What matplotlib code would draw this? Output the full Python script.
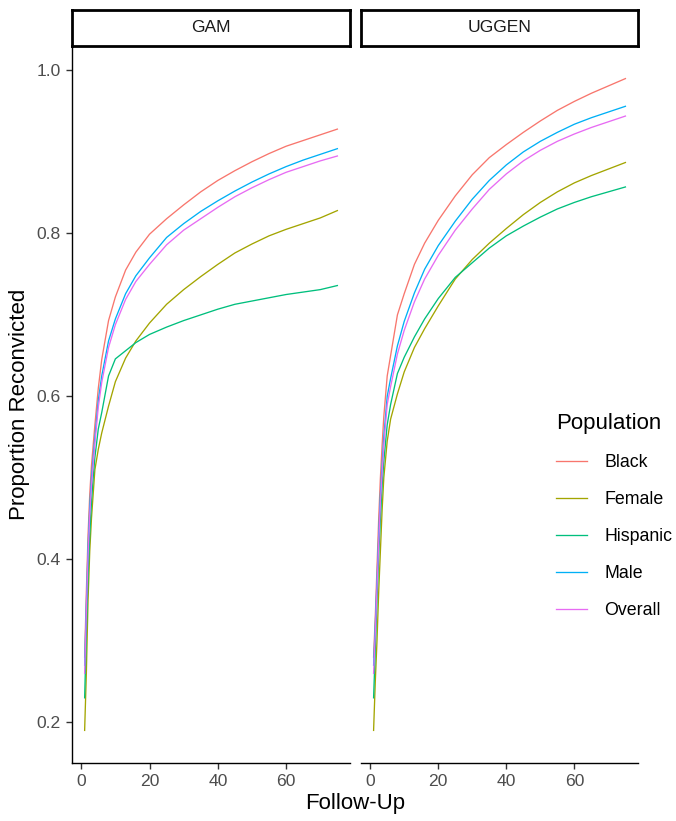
import numpy as np
import matplotlib
matplotlib.use("Agg")
import matplotlib.pyplot as plt
from matplotlib.lines import Line2D

plt.rcParams["font.family"] = ["Liberation Sans", "DejaVu Sans"]

follow_up = [1, 1.5, 2, 2.5, 3, 3.5, 4, 5, 6, 8, 10, 13, 16, 20, 25,
             30, 35, 40, 45, 50, 55, 60, 65, 70, 75]

populations = ["Black", "Female", "Hispanic", "Male", "Overall"]
colors = ["#F8766D", "#A3A500", "#00BF7D", "#00B0F6", "#E76BF3"]
panels = ["GAM", "UGGEN"]

# GAM panel
gam_black = [0.28, 0.36, 0.43, 0.48, 0.515, 0.54, 0.565, 0.61, 0.645, 0.693, 0.722, 0.755, 0.777,
             0.799, 0.818, 0.835, 0.851, 0.865, 0.877, 0.888, 0.898, 0.907, 0.914, 0.921, 0.928]
gam_female = [0.19, 0.26, 0.35, 0.41, 0.45, 0.48, 0.51, 0.535, 0.555, 0.588, 0.618, 0.647, 0.668,
              0.690, 0.713, 0.731, 0.747, 0.762, 0.776, 0.787, 0.797, 0.805, 0.812, 0.819, 0.828]
gam_hispanic = [0.23, 0.31, 0.38, 0.43, 0.47, 0.50, 0.525, 0.56, 0.58, 0.625, 0.646, 0.656, 0.666,
                0.676, 0.685, 0.693, 0.700, 0.707, 0.713, 0.717, 0.721, 0.725, 0.728, 0.731, 0.736]
gam_male = [0.27, 0.345, 0.415, 0.465, 0.50, 0.525, 0.55, 0.595, 0.625, 0.668, 0.695, 0.726, 0.748,
            0.770, 0.795, 0.812, 0.827, 0.840, 0.852, 0.863, 0.873, 0.882, 0.890, 0.897, 0.904]
gam_overall = [0.26, 0.335, 0.405, 0.455, 0.49, 0.517, 0.542, 0.587, 0.617, 0.66, 0.688, 0.719, 0.741,
               0.762, 0.786, 0.804, 0.818, 0.832, 0.845, 0.856, 0.866, 0.875, 0.882, 0.889, 0.895]

# UGGEN panel
ug_black = [0.28, 0.33, 0.39, 0.45, 0.50, 0.54, 0.575, 0.625, 0.65, 0.70, 0.726, 0.762, 0.788,
            0.816, 0.846, 0.872, 0.893, 0.909, 0.924, 0.938, 0.951, 0.962, 0.972, 0.981, 0.990]
ug_female = [0.19, 0.25, 0.30, 0.36, 0.41, 0.46, 0.50, 0.545, 0.572, 0.603, 0.630, 0.660, 0.683,
             0.711, 0.744, 0.768, 0.788, 0.806, 0.823, 0.838, 0.851, 0.862, 0.871, 0.879, 0.887]
ug_hispanic = [0.23, 0.29, 0.35, 0.405, 0.45, 0.49, 0.52, 0.565, 0.59, 0.628, 0.648, 0.673, 0.695,
               0.720, 0.746, 0.764, 0.782, 0.797, 0.809, 0.820, 0.830, 0.838, 0.845, 0.851, 0.857]
ug_male = [0.27, 0.32, 0.375, 0.43, 0.48, 0.515, 0.55, 0.60, 0.622, 0.662, 0.692, 0.727, 0.756,
           0.785, 0.815, 0.842, 0.865, 0.884, 0.900, 0.913, 0.924, 0.934, 0.942, 0.949, 0.956]
ug_overall = [0.26, 0.31, 0.365, 0.42, 0.47, 0.505, 0.54, 0.59, 0.612, 0.652, 0.681, 0.716, 0.744,
              0.773, 0.804, 0.830, 0.854, 0.873, 0.889, 0.902, 0.913, 0.922, 0.930, 0.937, 0.944]

series = {
    "GAM": [gam_black, gam_female, gam_hispanic, gam_male, gam_overall],
    "UGGEN": [ug_black, ug_female, ug_hispanic, ug_male, ug_overall],
}

W, H = 676, 821
fig = plt.figure(figsize=(W / 100, H / 100), dpi=100)

def px_box(x0, y0, x1, y1):
    # pixel box (top-left origin) -> figure fraction rect
    return [x0 / W, 1 - y1 / H, (x1 - x0) / W, (y1 - y0) / H]

allv = np.concatenate([np.ravel(v) for v in series.values()])
ylo, yhi = allv.min(), allv.max()
ypad = 0.05 * (yhi - ylo)
xpad = 0.05 * (max(follow_up) - min(follow_up))

panel_px = {"GAM": (72, 350), "UGGEN": (361, 638)}
tick_kw = dict(labelsize=12.6, labelcolor="#4D4D4D", color="#333333",
               length=4.5, width=1.0)

for i, name in enumerate(panels):
    x0, x1 = panel_px[name]
    ax = fig.add_axes(px_box(x0, 46, x1, 763))
    for vals, c in zip(series[name], colors):
        ax.plot(follow_up, vals, color=c, lw=0.95)
    ax.set_xlim(min(follow_up) - xpad, max(follow_up) + xpad)
    ax.set_ylim(ylo - ypad, yhi + ypad)
    ax.set_xticks([0, 20, 40, 60])
    ax.set_yticks([0.2, 0.4, 0.6, 0.8, 1.0])
    ax.set_yticklabels(["0.2", "0.4", "0.6", "0.8", "1.0"])
    ax.tick_params(**tick_kw)
    for s in ["top", "right"]:
        ax.spines[s].set_visible(False)
    ax.spines["bottom"].set_linewidth(1.0)
    ax.spines["left"].set_linewidth(1.0)
    if i > 0:
        ax.spines["left"].set_visible(False)
        ax.tick_params(axis="y", left=False, labelleft=False)
    # facet strip
    sax = fig.add_axes(px_box(x0, 10, x1, 46))
    sax.set_xticks([]); sax.set_yticks([])
    for s in sax.spines.values():
        s.set_linewidth(2.0)
        s.set_color("black")
    sax.text(0.5, 0.5, name, ha="center", va="center", fontsize=12.6,
             color="#1A1A1A", transform=sax.transAxes)

fig.text(20 / W, 1 - 404 / H, "Proportion Reconvicted", rotation=90,
         ha="center", va="center", fontsize=16)
fig.text(355 / W, 1 - 803 / H, "Follow-Up", ha="center", va="center", fontsize=16)

handles = [Line2D([], [], color=c, lw=0.95) for c in colors]
leg = fig.legend(handles, populations, title="Population", loc="center left",
                 bbox_to_anchor=(556 / W, 1 - 516 / H), frameon=False,
                 fontsize=12.8, title_fontsize=16, handlelength=1.75,
                 handletextpad=0.95, labelspacing=1.13, borderpad=0,
                 borderaxespad=0, alignment="left")

fig.savefig("out.png", dpi=100)
